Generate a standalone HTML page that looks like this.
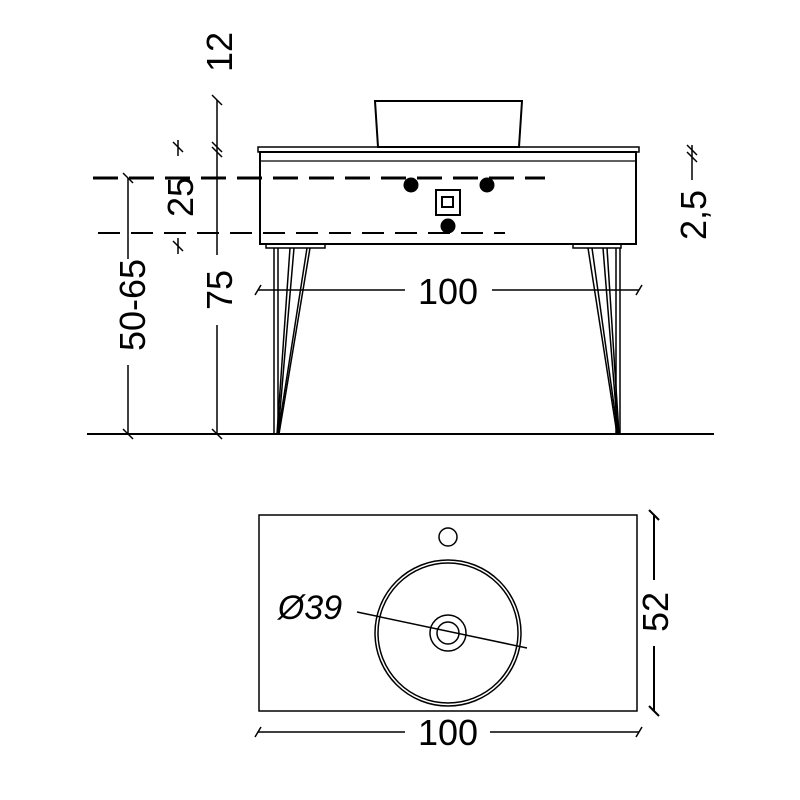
<!DOCTYPE html>
<html><head><meta charset="utf-8"><style>html,body{margin:0;padding:0;background:#fff}svg{display:block}text{font-family:"Liberation Sans",sans-serif;fill:#000;stroke:none}</style></head>
<body>
<svg width="800" height="800" viewBox="0 0 800 800" xmlns="http://www.w3.org/2000/svg" fill="none" stroke="#000">
<path d="M375 101 L522 101 L519 147 L378 147 Z" stroke-width="2" fill="#fff"/>
<rect x="258" y="147" width="381" height="5" stroke-width="1.5"/>
<rect x="260" y="152" width="376" height="92" stroke-width="2"/>
<line x1="260" y1="161" x2="636" y2="161" stroke-width="1.2"/>
<line x1="93" y1="178" x2="545" y2="178" stroke-width="3" stroke-dasharray="25 11"/>
<line x1="98" y1="233" x2="505" y2="233" stroke-width="2" stroke-dasharray="22 11"/>
<circle cx="411" cy="185" r="7.5" fill="#000" stroke="none"/>
<circle cx="487" cy="185" r="7.5" fill="#000" stroke="none"/>
<circle cx="448" cy="226" r="7.5" fill="#000" stroke="none"/>
<rect x="436" y="190" width="24" height="25" stroke-width="2" fill="#fff"/>
<rect x="442" y="197" width="11" height="10" stroke-width="2"/>
<rect x="266" y="244" width="59" height="4" stroke-width="1.5"/>
<rect x="573" y="244" width="48" height="4" stroke-width="1.5"/>
<g stroke-width="1.5">
<line x1="274" y1="248" x2="274" y2="434"/><line x1="278" y1="248" x2="278" y2="434"/>
<line x1="290" y1="248" x2="277" y2="434"/><line x1="294" y1="248" x2="278" y2="434"/>
<line x1="307" y1="248" x2="278" y2="434"/><line x1="310" y1="248" x2="279" y2="434"/>
<line x1="616" y1="248" x2="616" y2="434"/><line x1="620" y1="248" x2="620" y2="434"/>
<line x1="588" y1="248" x2="617" y2="434"/><line x1="592" y1="248" x2="618" y2="434"/>
<line x1="603" y1="248" x2="618" y2="434"/><line x1="607" y1="248" x2="619" y2="434"/>
</g>
<line x1="87" y1="434" x2="714" y2="434" stroke-width="2"/>
<g stroke-width="1.5">
<line x1="258" y1="290" x2="405" y2="290"/><line x1="492" y1="290" x2="639" y2="290"/>
<line x1="255" y1="295" x2="261" y2="285"/><line x1="636" y1="295" x2="642" y2="285"/>
<line x1="128" y1="178" x2="128" y2="259"/><line x1="128" y1="365" x2="128" y2="434"/>
<line x1="123" y1="173" x2="133" y2="183"/><line x1="123" y1="429" x2="133" y2="439"/>
<line x1="217" y1="100" x2="217" y2="255"/><line x1="217" y1="325" x2="217" y2="434"/>
<line x1="212" y1="95" x2="222" y2="105"/><line x1="212" y1="142" x2="222" y2="152"/><line x1="212" y1="147" x2="222" y2="157"/>
<line x1="212" y1="429" x2="222" y2="439"/>
<line x1="178" y1="140" x2="178" y2="156"/><line x1="178" y1="238" x2="178" y2="254"/>
<line x1="173" y1="142" x2="183" y2="152"/><line x1="173" y1="241" x2="183" y2="251"/>
<line x1="692" y1="145" x2="692" y2="180"/>
<line x1="687" y1="145" x2="697" y2="155"/><line x1="687" y1="152" x2="697" y2="162"/>
</g>
<text font-size="36" transform="translate(232,52) rotate(-90)" text-anchor="middle">12</text>
<text font-size="36" transform="translate(193,197) rotate(-90)" text-anchor="middle">25</text>
<text font-size="36" transform="translate(232,290) rotate(-90)" text-anchor="middle">75</text>
<text font-size="36" transform="translate(145,305) rotate(-90)" text-anchor="middle">50-65</text>
<text font-size="36" transform="translate(706,215) rotate(-90)" text-anchor="middle">2,5</text>
<text x="448" y="304" font-size="36" text-anchor="middle">100</text>
<rect x="259" y="515" width="378" height="196" stroke-width="1.5"/>
<circle cx="448" cy="537" r="9" stroke-width="1.5"/>
<circle cx="448" cy="633" r="73" stroke-width="1.5"/>
<circle cx="448" cy="633" r="70" stroke-width="1.5"/>
<circle cx="448" cy="633" r="18" stroke-width="1.5"/>
<circle cx="448" cy="633" r="11" stroke-width="1.5"/>
<line x1="357" y1="612" x2="527" y2="648" stroke-width="1.5"/>
<text x="310" y="619" font-size="34" text-anchor="middle" font-style="italic">Ø39</text>
<g stroke-width="2">
<line x1="654" y1="515" x2="654" y2="580"/><line x1="654" y1="646" x2="654" y2="711"/>
<line x1="649" y1="510" x2="659" y2="520"/><line x1="649" y1="706" x2="659" y2="716"/>
</g>
<text font-size="36" transform="translate(668,612) rotate(-90)" text-anchor="middle">52</text>
<g stroke-width="1.5">
<line x1="258" y1="732" x2="405" y2="732"/><line x1="490" y1="732" x2="639" y2="732"/>
<line x1="255" y1="737" x2="261" y2="727"/><line x1="636" y1="737" x2="642" y2="727"/>
</g>
<text x="448" y="745" font-size="36" text-anchor="middle">100</text>
</svg>
</body></html>
